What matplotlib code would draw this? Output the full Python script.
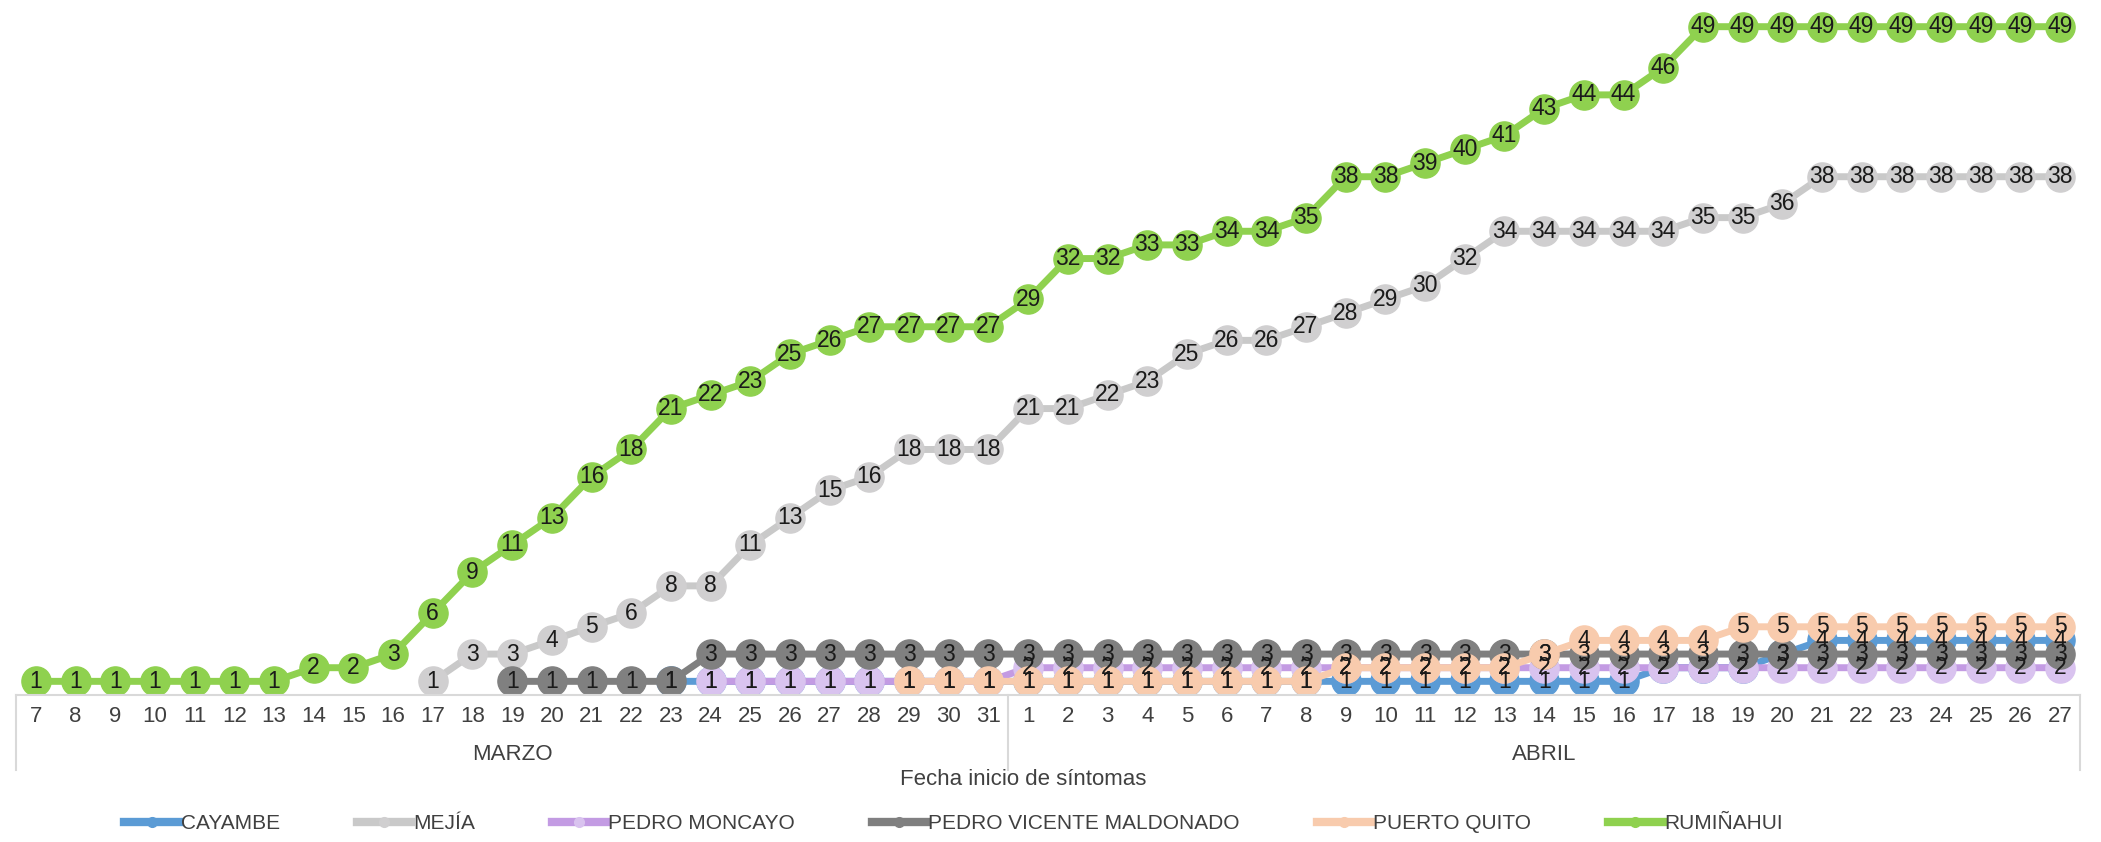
import numpy as np
import matplotlib
matplotlib.use('Agg')
import matplotlib.pyplot as plt
from matplotlib.lines import Line2D

nan = np.nan

# Categorías del eje X (días por mes)
dias_marzo = [7, 8, 9, 10, 11, 12, 13, 14, 15, 16, 17, 18, 19, 20, 21, 22, 23, 24, 25,
              26, 27, 28, 29, 30, 31]
dias_abril = [1, 2, 3, 4, 5, 6, 7, 8, 9, 10, 11, 12, 13, 14, 15, 16, 17, 18, 19, 20,
              21, 22, 23, 24, 25, 26, 27]
meses = ['MARZO', 'ABRIL']

# Casos acumulados por cantón (nan = sin dato)
cayambe = [nan] * 16 + [1] * 9 + [1] * 16 + [2, 2, 2, 3] + [4] * 7
mejia = [nan] * 10 + [1, 3, 3, 4, 5, 6, 8, 8, 11, 13, 15, 16, 18, 18, 18] + \
        [21, 21, 22, 23, 25, 26, 26, 27, 28, 29, 30, 32, 34, 34, 34, 34, 34, 35, 35, 36,
         38, 38, 38, 38, 38, 38, 38]
pedro_moncayo = [nan] * 17 + [1] * 8 + [2] * 27
pedro_vicente = [nan] * 12 + [1] * 5 + [3] * 8 + [3] * 27
puerto_quito = [nan] * 22 + [1] * 3 + [1] * 8 + [2] * 5 + [3] + [4] * 4 + [5] * 9
ruminahui = [1, 1, 1, 1, 1, 1, 1, 2, 2, 3, 6, 9, 11, 13, 16, 18, 21, 22, 23, 25, 26, 27,
             27, 27, 27] + \
            [29, 32, 32, 33, 33, 34, 34, 35, 38, 38, 39, 40, 41, 43, 44, 44, 46,
             49, 49, 49, 49, 49, 49, 49, 49, 49, 49]

series = [
    ('CAYAMBE', cayambe, '#5B9BD5', '#5B9BD5'),
    ('MEJÍA', mejia, '#C9C9C9', '#D0CFD0'),
    ('PEDRO MONCAYO', pedro_moncayo, '#C39BE3', '#D9C3EF'),
    ('PEDRO VICENTE MALDONADO', pedro_vicente, '#7F7F7F', '#808080'),
    ('PUERTO QUITO', puerto_quito, '#F8CBAD', '#F8CBAD'),
    ('RUMIÑAHUI', ruminahui, '#8FD14F', '#8FD14F'),
]

FUENTE = ['Liberation Sans Narrow', 'Liberation Sans', 'DejaVu Sans']
TAM_DATOS = 16.5
TAM = 16
GRIS = '#D9D9D9'


def main():
    plt.rcParams['font.family'] = FUENTE
    fig = plt.figure(figsize=(21.01, 8.42), dpi=100)
    ax = fig.add_axes([0.0076, 0.1746, 0.9824, 0.818])

    etiquetas = [str(d) for d in dias_marzo + dias_abril]
    x = np.arange(len(etiquetas))

    handles = []
    for nombre, valores, color, relleno in series:
        y = np.array(valores, dtype=float)
        ax.plot(x, y, color=color, lw=5, marker='o', ms=21,
                mfc=relleno, mec=relleno, solid_capstyle='round')
        # Etiquetas de datos centradas en cada punto
        for xi, v in zip(x, y):
            if not np.isnan(v):
                ax.text(xi, v, str(int(v)), ha='center', va='center',
                        fontsize=TAM_DATOS, color='#1A1A1A', zorder=10)
        handles.append(Line2D([], [], color=color, lw=6, marker='o', ms=7,
                              mfc=relleno, mec=relleno, label=nombre))

    ax.set_xlim(-0.5, len(x) - 0.5)
    ax.set_ylim(0, 50.5)
    ax.set_xticks(x)
    ax.set_xticklabels(etiquetas)
    ax.set_yticks([])
    ax.tick_params(axis='x', length=0, pad=8, labelsize=TAM, labelcolor='#404040')
    for lado in ['top', 'left', 'right']:
        ax.spines[lado].set_visible(False)
    ax.spines['bottom'].set_color(GRIS)
    ax.spines['bottom'].set_linewidth(1.5)

    # Eje de categorías de dos niveles: separadores y meses
    tr = ax.get_xaxis_transform()
    n_marzo = len(dias_marzo)
    for xs in [-0.5, n_marzo - 0.5, len(x) - 0.5]:
        ax.add_line(Line2D([xs, xs], [0, -0.109], transform=tr, color=GRIS,
                           lw=1.5, clip_on=False))
    centros = [(n_marzo - 1) / 2, n_marzo + (len(dias_abril) - 1) / 2]
    for mes, c in zip(meses, centros):
        ax.text(c, -0.086, mes, transform=tr, ha='center', va='center',
                fontsize=TAM, color='#404040')

    ax.set_xlabel('Fecha inicio de síntomas', fontsize=TAM, color='#404040')
    ax.xaxis.set_label_coords(0.488, -0.122)
    ax.xaxis.label.set_va('center')

    fig.legend(handles=handles, loc='center', bbox_to_anchor=(0.454, 0.022),
               ncol=6, frameon=False, fontsize=15, handlelength=2.6,
               handletextpad=0.1, columnspacing=3.7, labelcolor='#404040')

    fig.savefig('out.png', dpi=100)


if __name__ == '__main__':
    main()
